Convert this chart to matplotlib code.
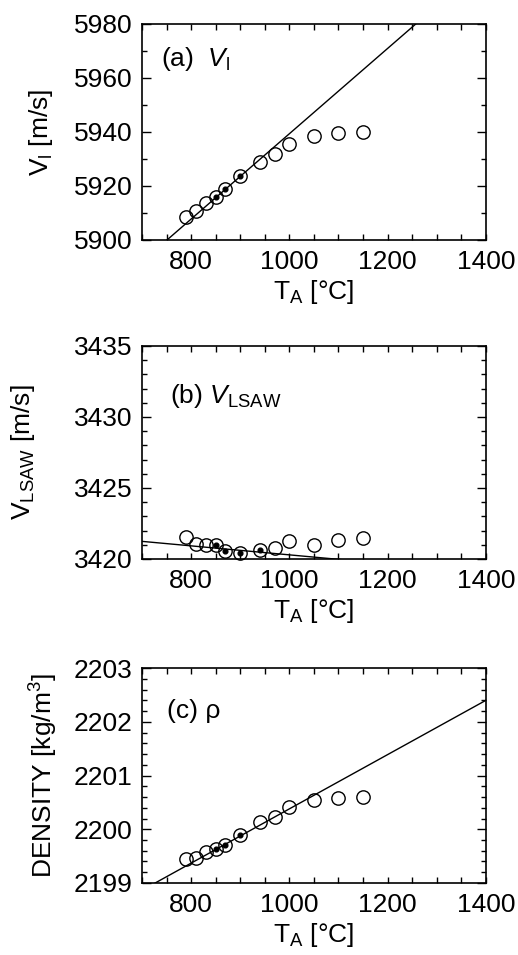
import matplotlib
matplotlib.use("Agg")
import numpy as np
import matplotlib.pyplot as plt
from matplotlib.ticker import MultipleLocator

plt.rcParams["font.family"] = ["Liberation Sans", "DejaVu Sans"]
plt.rcParams["mathtext.fontset"] = "custom"
plt.rcParams["mathtext.rm"] = "Liberation Sans"
plt.rcParams["mathtext.it"] = "Liberation Sans:italic"
plt.rcParams["font.size"] = 19

# annealing temperature [degC]
temps = [790, 810, 830, 850, 870, 900, 940, 970, 1000, 1050, 1100, 1150]

v_long = [5908.6, 5910.9, 5913.6, 5916.0, 5918.9, 5923.8, 5928.9, 5931.9,
          5935.6, 5938.5, 5939.8, 5940.1]
v_lsaw = [3421.55, 3421.08, 3420.96, 3420.96, 3420.54, 3420.42, 3420.61,
          3420.77, 3421.24, 3421.01, 3421.31, 3421.48]
density = [2199.45, 2199.47, 2199.58, 2199.64, 2199.71, 2199.89, 2200.14,
           2200.23, 2200.42, 2200.55, 2200.59, 2200.60]

# samples marked with a filled dot
dots_a = [850, 870, 900]
dots_b = [850, 870, 900, 940]
dots_c = [850, 870, 900]

# linear fits: slope, intercept
fit_a = [0.158, 5781.34]
fit_b = [-0.00317, 3423.459]
fit_c = [0.00505, 2195.329]

fit_t = np.array([700, 1400])
fs = 19

fig = plt.figure(figsize=(5.18, 9.55), dpi=100)

panels = [
    dict(rect=[0.274, 0.7487, 0.664, 0.2262], y=v_long, dots=dots_a, fit=fit_a,
         ylim=(5900, 5980), major=20, minor=10,
         ylabel=r"V$_\mathrm{l}$ [m/s]", lab_x=-0.253,
         tag=r"(a)  $V_\mathrm{l}$", tag_pos=(0.055, 0.806)),
    dict(rect=[0.274, 0.4147, 0.664, 0.2230], y=v_lsaw, dots=dots_b, fit=fit_b,
         ylim=(3420, 3435), major=5, minor=1,
         ylabel=r"V$_\mathrm{LSAW}$ [m/s]", lab_x=-0.305,
         tag=r"(b) $V_\mathrm{LSAW}$", tag_pos=(0.081, 0.732)),
    dict(rect=[0.274, 0.0754, 0.664, 0.2251], y=density, dots=dots_c, fit=fit_c,
         ylim=(2199, 2203), major=1, minor=0.2,
         ylabel=r"DENSITY [kg/m$^3$]", lab_x=-0.238,
         tag="(c) ρ", tag_pos=(0.073, 0.767)),
]

for p in panels:
    ax = fig.add_axes(p["rect"])
    ax.plot(fit_t, p["fit"][0] * fit_t + p["fit"][1], color="black", lw=1.0)
    ax.plot(temps, p["y"], "o", ms=9.6, mfc="none", mec="black", mew=1.0,
            clip_on=False)
    dot_y = [p["y"][temps.index(t)] for t in p["dots"]]
    ax.plot(p["dots"], dot_y, "o", ms=3.4, color="black")

    ax.set_xlim(700, 1400)
    ax.set_ylim(*p["ylim"])
    ax.xaxis.set_major_locator(MultipleLocator(200))
    ax.xaxis.set_minor_locator(MultipleLocator(50))
    ax.yaxis.set_major_locator(MultipleLocator(p["major"]))
    ax.yaxis.set_minor_locator(MultipleLocator(p["minor"]))
    ax.tick_params(which="both", direction="in", top=True, right=True,
                   width=1.0, labelsize=fs, pad=7)
    ax.tick_params(axis="y", which="major", length=6.5)
    ax.tick_params(axis="y", which="minor", length=3.5)
    ax.tick_params(axis="x", which="both", length=4)
    for s in ax.spines.values():
        s.set_linewidth(1.2)

    ax.set_xlabel(r"T$_\mathrm{A}$ [°C]", fontsize=fs, labelpad=3)
    ax.set_ylabel(p["ylabel"], fontsize=fs)
    ax.yaxis.set_label_coords(p["lab_x"], 0.5)
    ax.text(p["tag_pos"][0], p["tag_pos"][1], p["tag"], transform=ax.transAxes,
            fontsize=fs, va="baseline", ha="left")

fig.savefig("out.png", dpi=100)
